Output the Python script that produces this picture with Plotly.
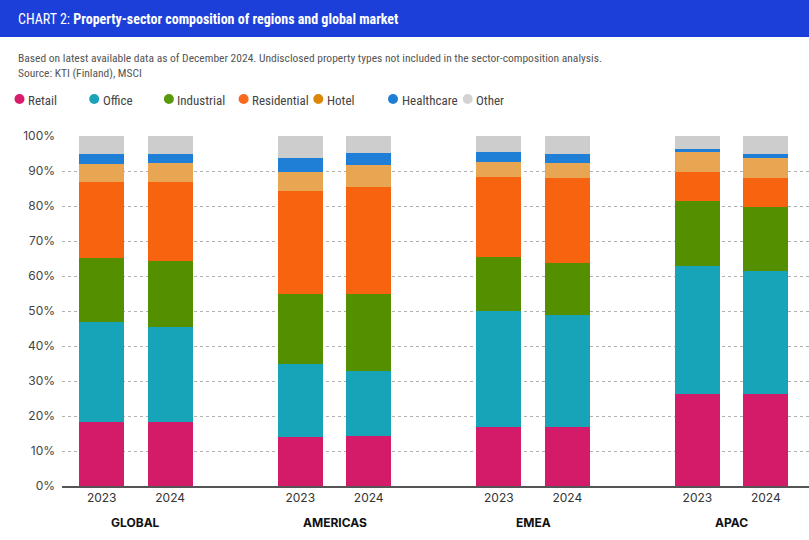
import plotly.graph_objects as go

# Sector shares (%), stacked bottom to top
regions = ["GLOBAL", "AMERICAS", "EMEA", "APAC"]
years = ["2023", "2024"]
sectors = ["Retail", "Office", "Industrial", "Residential", "Hotel", "Healthcare", "Other"]

retail = [18.2, 18.2, 14.1, 14.3, 17.0, 16.8, 26.4, 26.2]
office = [28.8, 27.1, 20.8, 18.5, 32.9, 32.0, 36.5, 35.2]
industrial = [18.2, 19.1, 20.1, 22.2, 15.6, 14.8, 18.4, 18.4]
residential = [21.7, 22.5, 29.4, 30.5, 22.8, 24.5, 8.5, 8.3]
hotel = [5.2, 5.5, 5.4, 6.1, 4.2, 4.2, 5.5, 5.7]
healthcare = [2.9, 2.6, 3.9, 3.6, 2.9, 2.7, 1.0, 1.0]
other = [5.0, 5.0, 6.3, 4.8, 4.6, 5.0, 3.7, 5.2]

y_ticks = list(range(0, 101, 10))

values = [retail, office, industrial, residential, hotel, healthcare, other]
bar_colors = ["#d41b6a", "#17a3b8", "#548f00", "#f8630f", "#e8a552", "#1f7fd6", "#cdcdcd"]
legend_colors = ["#d81b6a", "#1ba3b8", "#579a0d", "#f96a1d", "#dc8506", "#1f7fd6", "#d3d3d3"]

W, H = 809, 540
ML, MR, MT, MB = 62, 0, 136, 54
PH = H - MT - MB
PW = W - ML - MR

GROUP_STEP = 2.9
xpos = [g * GROUP_STEP + j for g in range(len(regions)) for j in range(len(years))]
xlabels = [y for _ in regions for y in years]


def px(pixel_x):
    # pixel from left of the page -> paper x
    return (pixel_x - ML) / PW


def py(pixel_y):
    # pixel from top of the page -> paper y
    return (H - MB - pixel_y) / PH


fig = go.Figure()

for name, vals, col in zip(sectors, values, bar_colors):
    fig.add_trace(go.Bar(
        x=xpos, y=vals, name=name, width=0.657,
        marker=dict(color=col, line=dict(width=0)),
        showlegend=False,
        hovertemplate=name + ": %{y:.1f}%<extra></extra>",
    ))

annotations = []
shapes = [dict(
    type="rect", xref="paper", yref="paper",
    x0=px(0), x1=px(W), y0=py(37), y1=py(0),
    fillcolor="#1b3fd8", line=dict(width=0), layer="below",
)]

# legend drawn as a row of circles + labels
LEG_X0, LEG_STEP, LEG_Y, R = 19.5, 74.7, 99, 5
for i, (name, col) in enumerate(zip(sectors, legend_colors)):
    cx = LEG_X0 + i * LEG_STEP
    shapes.append(dict(
        type="circle", xref="paper", yref="paper",
        x0=px(cx - R), x1=px(cx + R), y0=py(LEG_Y + R), y1=py(LEG_Y - R),
        fillcolor=col, line=dict(width=0),
    ))
    annotations.append(dict(
        x=px(cx + 6.5), y=py(LEG_Y + 1), xref="paper", yref="paper",
        xanchor="left", yanchor="middle", showarrow=False, text=name,
        font=dict(family="Roboto Condensed", size=13, color="#444444"),
    ))

for g, reg in enumerate(regions):
    annotations.append(dict(
        x=g * GROUP_STEP + 0.5, y=0, xref="x", yref="y",
        text="<b>" + reg + "</b>", showarrow=False,
        yanchor="top", yshift=-27,
        font=dict(family="Inter", size=12, color="#111111"),
    ))

annotations.append(dict(
    x=px(16), y=py(19), xref="paper", yref="paper",
    xanchor="left", yanchor="middle", showarrow=False,
    text="CHART 2: <b>Property-sector composition of regions and global market</b>",
    font=dict(family="Roboto Condensed", size=14, color="#ffffff"),
))
annotations.append(dict(
    x=px(16), y=py(65), xref="paper", yref="paper",
    xanchor="left", yanchor="middle", showarrow=False, align="left",
    text="Based on latest available data as of December 2024. Undisclosed property types not included in the sector-composition analysis.<br>Source: KTI (Finland), MSCI",
    font=dict(family="Roboto Condensed", size=11.5, color="#555555"),
))

fig.update_layout(
    width=W, height=H,
    margin=dict(l=ML, r=MR, t=MT, b=MB, autoexpand=False),
    paper_bgcolor="white", plot_bgcolor="white",
    barmode="stack", bargap=0, showlegend=False,
    font=dict(family="Inter", size=12, color="#333333"),
    shapes=shapes,
    annotations=annotations,
    xaxis=dict(
        range=[-0.58, 10.33], tickvals=xpos, ticktext=xlabels,
        showgrid=False, zeroline=False, showline=True,
        linecolor="#555555", linewidth=1.5, ticks="",
        tickfont=dict(size=12, color="#333333"),
    ),
    yaxis=dict(
        range=[0, 100], tickvals=y_ticks, ticktext=[f"{t}%" for t in y_ticks],
        showgrid=True, gridcolor="#b0b0b0", griddash="dot", gridwidth=1,
        zeroline=False, ticks="", ticklabelstandoff=6,
        tickfont=dict(size=12, color="#444444"),
    ),
)

# drop the browser's default body margin so the figure sits at the page corner
fig.write_html("out.html", config={"displayModeBar": False},
               post_script="document.body.style.margin='0';")
